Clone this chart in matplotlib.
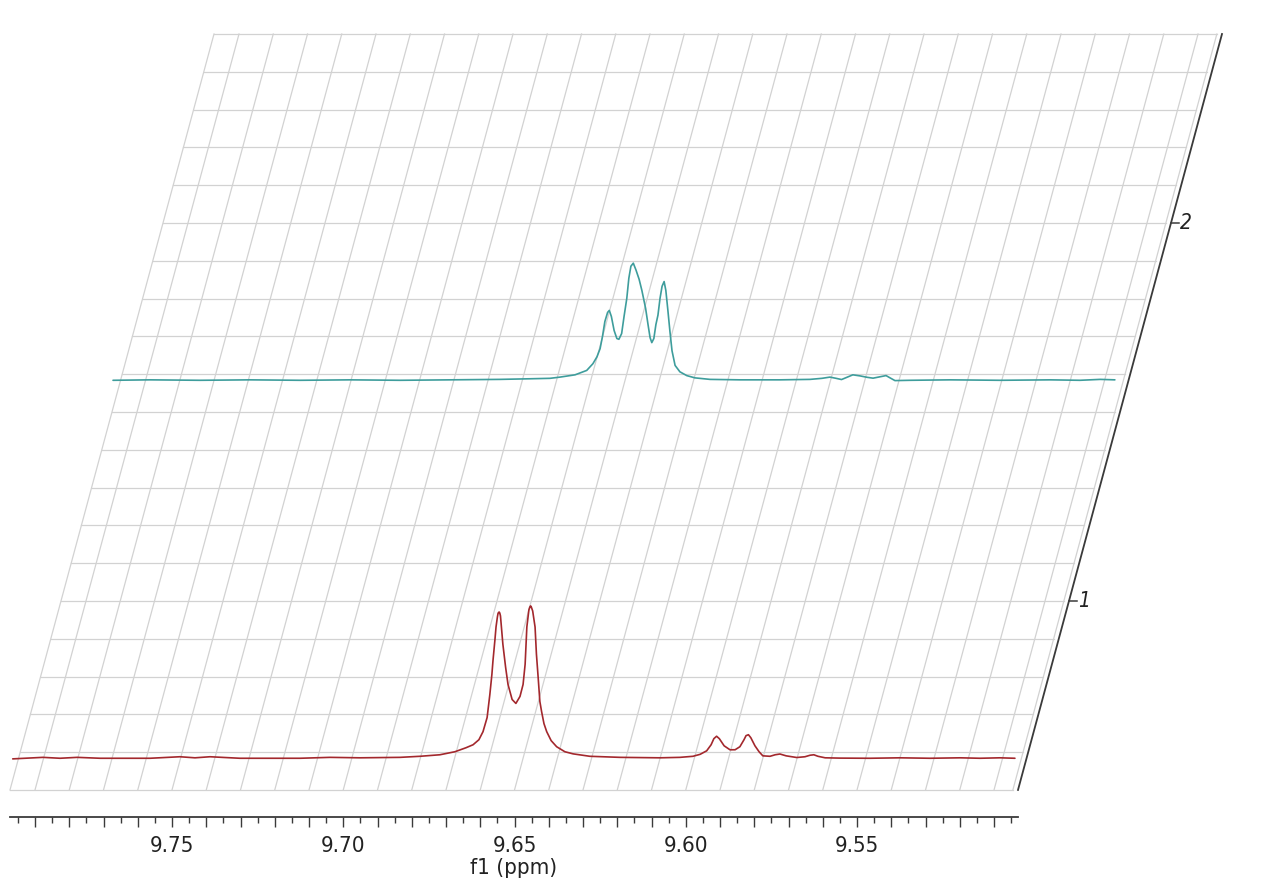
import matplotlib
matplotlib.use("Agg")
import matplotlib.pyplot as plt
from matplotlib.ticker import MultipleLocator, FuncFormatter
from matplotlib import font_manager
import numpy as np

# ---------------- data ----------------
# spectrum 1 (red, front)
ppm_1 = [9.7965, 9.7877, 9.7827, 9.7777, 9.7710, 9.7564, 9.7477, 9.7433, 9.7389, 9.7302,
         9.7126, 9.7039, 9.6951, 9.6834, 9.6776, 9.6718, 9.6674, 9.6642, 9.6621, 9.6604,
         9.6592, 9.6580, 9.6572, 9.6566, 9.6563, 9.6557, 9.6554, 9.6550, 9.6548, 9.6545,
         9.6543, 9.6541, 9.6534, 9.6526, 9.6519, 9.6507, 9.6496, 9.6484, 9.6475, 9.6469,
         9.6464, 9.6458, 9.6455, 9.6453, 9.6451, 9.6447, 9.6440, 9.6436, 9.6431, 9.6426,
         9.6421, 9.6414, 9.6406, 9.6393, 9.6377, 9.6353, 9.6329, 9.6280, 9.6192, 9.6075,
         9.6017, 9.5979, 9.5958, 9.5939, 9.5926, 9.5918, 9.5910, 9.5902, 9.5888, 9.5871,
         9.5856, 9.5842, 9.5830, 9.5824, 9.5817, 9.5810, 9.5798, 9.5786, 9.5775, 9.5754,
         9.5739, 9.5725, 9.5707, 9.5676, 9.5652, 9.5637, 9.5626, 9.5614, 9.5593, 9.5550,
         9.5462, 9.5375, 9.5287, 9.5199, 9.5141, 9.5083, 9.5039]
int_1 = [-0.7, 0.3, -0.3, 0.3, -0.3, -0.3, 0.7, 0.0, 0.7, -0.3,
         -0.3, 0.3, 0.0, 0.3, 1.0, 2.0, 4.0, 6.6, 8.6, 11.9,
         17.2, 26.5, 41.7, 55.0, 63.6, 78.1, 86.1, 92.7, 95.2, 96.0,
         95.3, 93.4, 74.8, 59.6, 48.3, 38.4, 35.8, 40.4, 48.3, 61.6,
         86.1, 97.4, 99.4, 100.0, 99.3, 96.7, 86.1, 68.2, 53.0, 37.1,
         30.5, 22.5, 17.2, 11.3, 7.3, 4.0, 2.6, 1.0, 0.3, 0.0,
         0.3, 1.0, 2.3, 4.6, 8.6, 12.6, 14.2, 12.6, 7.9, 5.3,
         5.3, 7.3, 11.9, 14.6, 15.2, 13.2, 7.9, 4.0, 1.3, 1.0,
         2.0, 2.5, 1.3, 0.2, 0.7, 1.7, 2.0, 1.0, 0.0, -0.2,
         -0.3, 0.0, -0.3, 0.0, -0.3, 0.0, -0.3]

# spectrum 2 (teal, back)
ppm_2 = [9.7970, 9.7862, 9.7716, 9.7570, 9.7424, 9.7278, 9.7132, 9.6986, 9.6840, 9.6753,
         9.6694, 9.6665, 9.6621, 9.6587, 9.6569, 9.6557, 9.6548, 9.6541, 9.6534, 9.6526,
         9.6521, 9.6515, 9.6507, 9.6499, 9.6493, 9.6485, 9.6478, 9.6470, 9.6464, 9.6458,
         9.6451, 9.6443, 9.6434, 9.6426, 9.6415, 9.6408, 9.6402, 9.6397, 9.6391, 9.6385,
         9.6379, 9.6373, 9.6367, 9.6361, 9.6356, 9.6350, 9.6344, 9.6338, 9.6329, 9.6315,
         9.6295, 9.6271, 9.6227, 9.6139, 9.6023, 9.5935, 9.5900, 9.5877, 9.5859, 9.5843,
         9.5827, 9.5810, 9.5789, 9.5769, 9.5751, 9.5731, 9.5713, 9.5699, 9.5687, 9.5643,
         9.5526, 9.5380, 9.5234, 9.5147, 9.5088, 9.5045]
int_2 = [-0.3, 0.0, -0.3, 0.0, -0.3, 0.0, -0.3, 0.0, 0.3, 0.7,
         1.0, 1.8, 3.3, 6.2, 10.6, 15.2, 20.5, 28.5, 38.4, 44.4,
         45.7, 41.7, 32.5, 27.2, 26.7, 30.5, 41.7, 53.6, 66.9, 74.8,
         76.8, 72.2, 66.2, 58.9, 47.0, 36.4, 27.8, 24.5, 27.2, 36.4,
         42.6, 53.6, 61.6, 64.7, 58.9, 45.7, 31.8, 19.2, 9.5, 5.3,
         2.8, 1.3, 0.3, 0.0, 0.0, 0.3, 1.0, 1.8, 1.0, 0.2,
         1.7, 3.3, 2.6, 1.7, 1.1, 2.0, 2.8, 1.0, -0.5, -0.3,
         0.0, -0.3, 0.0, -0.3, 0.3, 0.0]

spectra = [(ppm_1, int_1, "#a3282d"), (ppm_2, int_2, "#3e9d9c")]
stack_depth = [0.5, 1.5]          # depth position of each spectrum
depth_ticks = [1, 2]
depth_tick_labels = ["1", "2"]
x_major_labels = [9.75, 9.70, 9.65, 9.60, 9.55]

# ---------------- fonts ----------------
names = {f.name for f in font_manager.fontManager.ttflist}
FAM = ["Liberation Sans Narrow", "DejaVu Sans"] if "Liberation Sans Narrow" in names else ["DejaVu Sans"]
STRETCH = "normal" if FAM[0] == "Liberation Sans Narrow" else "condensed"
plt.rcParams["font.family"] = FAM
plt.rcParams["font.stretch"] = STRETCH

# ---------------- layout constants ----------------
W, H = 1280, 894
PPM_LEFT, PPM_RIGHT = 9.7973, 9.5030      # axis range
GRID_RIGHT = 9.5045
DEPTH_MIN, DEPTH_MAX = 0.5, 2.5
SHIFT = 0.02978          # ppm of skew per unit of depth
BASE_OFFSET = 0.085      # baseline lift of each trace
INT_SCALE = 0.004019     # depth units per % intensity
YBOT = 0.4284

fig = plt.figure(figsize=(W / 100, H / 100), dpi=100)
ax = fig.add_axes([10 / W, (H - 817) / H, 1008 / W, (817 - 34) / H])
ax.set_xlim(PPM_LEFT, PPM_RIGHT)
ax.set_ylim(YBOT, DEPTH_MAX)

def skew(ppm, depth):
    return np.asarray(ppm) - (depth - DEPTH_MIN) * SHIFT

grid_kw = dict(color="#d2d2d2", lw=0.9, clip_on=False, zorder=1)
for d in np.arange(DEPTH_MIN, DEPTH_MAX + 1e-9, 0.1):
    ax.plot(skew([PPM_LEFT, GRID_RIGHT], d), [d, d], **grid_kw)
vlines = [PPM_LEFT] + list(np.arange(9.79, 9.5049, -0.01)) + [GRID_RIGHT]
for p in vlines:
    ax.plot([skew(p, DEPTH_MIN), skew(p, DEPTH_MAX)], [DEPTH_MIN, DEPTH_MAX], **grid_kw)

for (p, inten, col), d in zip(spectra, stack_depth):
    ax.plot(skew(p, d), d + BASE_OFFSET + np.asarray(inten) * INT_SCALE,
            color=col, lw=1.2, clip_on=False, zorder=3,
            solid_joinstyle="round", solid_capstyle="round")

ax.plot([skew(PPM_RIGHT, DEPTH_MIN), skew(PPM_RIGHT, DEPTH_MAX)], [DEPTH_MIN, DEPTH_MAX],
        color="#3a3a3a", lw=1.3, clip_on=False, zorder=4)
for d, lab in zip(depth_ticks, depth_tick_labels):
    x0 = skew(PPM_RIGHT, d)
    ax.plot([x0, x0 - 0.0022], [d, d], color="#3a3a3a", lw=1.1, clip_on=False, zorder=4)
    ax.text(x0 - 0.0026, d, lab, fontsize=15, style="italic", ha="left", va="center",
            color="#222222")

for s in ["top", "left", "right"]:
    ax.spines[s].set_visible(False)
ax.spines["bottom"].set_color("#3a3a3a")
ax.spines["bottom"].set_linewidth(1.3)
ax.yaxis.set_visible(False)
ax.xaxis.set_major_locator(MultipleLocator(0.01))
ax.xaxis.set_minor_locator(MultipleLocator(0.005))

def fmt(v, pos):
    for m in x_major_labels:
        if abs(v - m) < 1e-6:
            return f"{m:.2f}"
    return ""

ax.xaxis.set_major_formatter(FuncFormatter(fmt))
ax.tick_params(axis="x", which="major", length=7, width=1.0, color="#3a3a3a",
               labelsize=16, pad=7, labelcolor="#222222")
ax.tick_params(axis="x", which="minor", length=4, width=1.0, color="#3a3a3a")
ax.set_xlabel("f1 (ppm)", fontsize=16, labelpad=1, color="#222222")
ax.patch.set_visible(False)

fig.savefig("out.png", dpi=100, facecolor="white")
